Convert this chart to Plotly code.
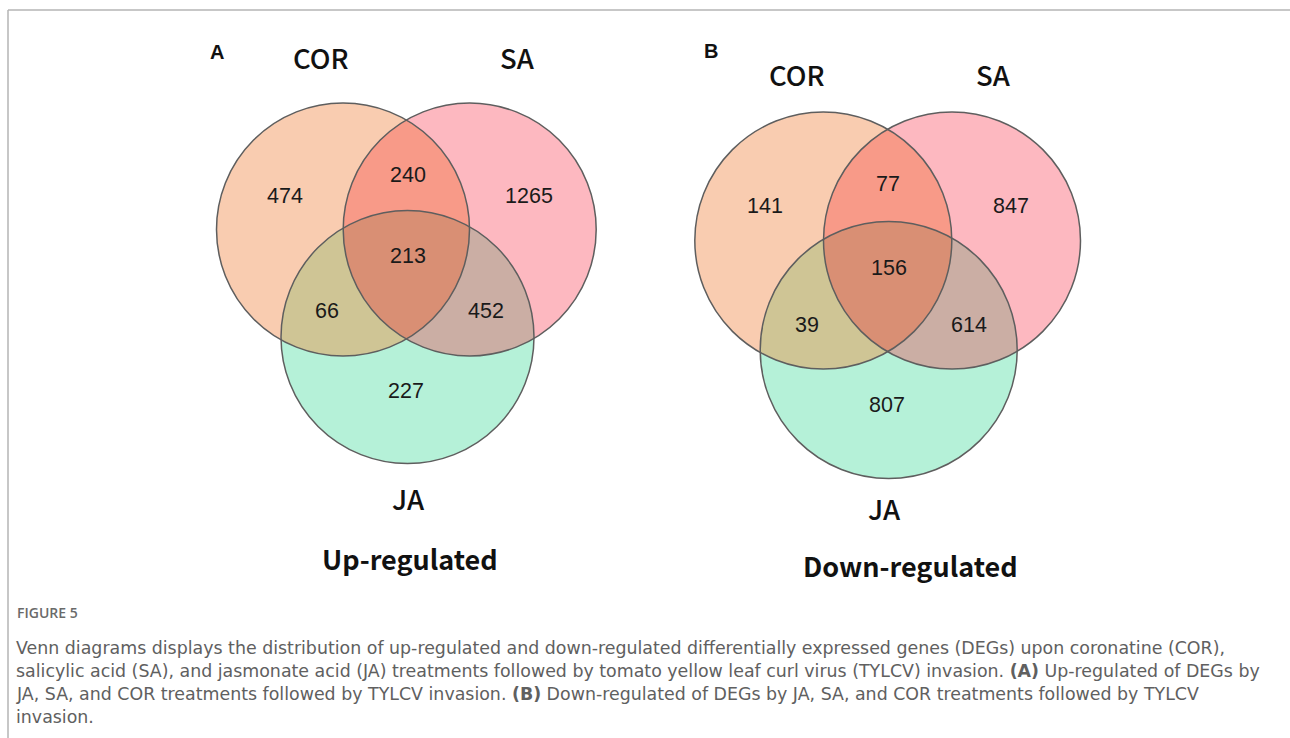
import numpy as np
import plotly.graph_objects as go

# ---------------- data ----------------
sets = ["COR", "SA", "JA"]
panel_letters = ["A", "B"]
panel_titles = ["Up-regulated", "Down-regulated"]
# region order: COR only, COR&SA, SA only, all three, COR&JA, SA&JA, JA only
region_keys = ["100", "110", "010", "111", "101", "011", "001"]
up_counts = [474, 240, 1265, 213, 66, 452, 227]
down_counts = [141, 77, 847, 156, 39, 614, 807]
counts = [up_counts, down_counts]

caption_head = "FIGURE 5"
caption_lines = [
    "Venn diagrams displays the distribution of up-regulated and down-regulated differentially expressed genes (DEGs) upon coronatine (COR),",
    "salicylic acid (SA), and jasmonate acid (JA) treatments followed by tomato yellow leaf curl virus (TYLCV) invasion. <b>(A)</b> Up-regulated of DEGs by",
    "JA, SA, and COR treatments followed by TYLCV invasion. <b>(B)</b> Down-regulated of DEGs by JA, SA, and COR treatments followed by TYLCV",
    "invasion.",
]

# ---------------- layout / style ----------------
W, H = 1290, 738
single_colors = {"100": "#F9CCB0", "010": "#FDB8C0", "001": "#B5F1D8"}
pair_colors = {"110": "#F89A88", "101": "#CFC595", "011": "#CBAEA4"}
triple_color = "#D98F74"
outline = "#5E5E5E"

panels = [
    dict(centers=[(343.0, 229.5), (469.7, 229.5), (407.5, 337.0)], r=126.5,
         letter=(217, 52), labels=[(321, 57), (517, 57), (408, 498)], title=(410, 558),
         nums=[(285, 198), (408, 177), (529, 198), (408, 258), (327, 313), (486, 313), (406, 393)]),
    dict(centers=[(823.3, 240.5), (952.0, 240.5), (888.7, 350.0)], r=128.5,
         letter=(711, 51), labels=[(797, 74), (993, 74), (884, 508)], title=(910, 565),
         nums=[(765, 208), (888, 186), (1011, 208), (889, 270), (807, 327), (969, 327), (887, 407)]),
]


def region_polygon(centers, r, members):
    """Convex intersection of the circles listed in members -> polygon."""
    pts = []
    t = np.linspace(0, 2 * np.pi, 1441)
    for i in members:
        cx, cy = centers[i]
        px, py = cx + r * np.cos(t), cy + r * np.sin(t)
        ok = np.ones_like(t, dtype=bool)
        for j in members:
            if j == i:
                continue
            ox, oy = centers[j]
            ok &= (px - ox) ** 2 + (py - oy) ** 2 <= r * r + 1e-6
        pts.append(np.column_stack([px[ok], py[ok]]))
    pts = np.vstack(pts)
    m = pts.mean(axis=0)
    order = np.argsort(np.arctan2(pts[:, 1] - m[1], pts[:, 0] - m[0]))
    pts = pts[order]
    return pts[:, 0], pts[:, 1]


fig = go.Figure()
shapes = []
annotations = []

label_font = dict(family="Noto Sans CJK SC", size=27.5, color="#111111", weight=500)
for p_idx, p in enumerate(panels):
    c, r = p["centers"], p["r"]
    for k, key in enumerate(["100", "010", "001"]):
        xs, ys = region_polygon(c, r, [k])
        fig.add_trace(go.Scatter(x=xs, y=ys, fill="toself", fillcolor=single_colors[key],
                                 mode="lines", line=dict(width=0), hoverinfo="skip", showlegend=False))
    for key, mem in [("110", [0, 1]), ("101", [0, 2]), ("011", [1, 2])]:
        xs, ys = region_polygon(c, r, mem)
        fig.add_trace(go.Scatter(x=xs, y=ys, fill="toself", fillcolor=pair_colors[key],
                                 mode="lines", line=dict(width=0), hoverinfo="skip", showlegend=False))
    xs, ys = region_polygon(c, r, [0, 1, 2])
    fig.add_trace(go.Scatter(x=xs, y=ys, fill="toself", fillcolor=triple_color,
                             mode="lines", line=dict(width=0), hoverinfo="skip", showlegend=False))
    for (cx, cy) in c:
        shapes.append(dict(type="circle", xref="x", yref="y", x0=cx - r, x1=cx + r,
                           y0=cy - r, y1=cy + r, line=dict(color=outline, width=1.5),
                           fillcolor="rgba(0,0,0,0)", layer="above"))
    fig.add_trace(go.Scatter(x=[q[0] for q in p["nums"]], y=[q[1] for q in p["nums"]],
                             mode="text", text=[str(v) for v in counts[p_idx]],
                             textfont=dict(family="Liberation Sans, Arial", size=21.5, color="#1a1a1a"),
                             hoverinfo="skip", showlegend=False))
    for s, (lx, ly) in zip(sets, p["labels"]):
        annotations.append(dict(x=lx, y=ly, xref="x", yref="y", text=s, showarrow=False,
                                font=label_font, xanchor="center", yanchor="middle"))
    annotations.append(dict(x=p["letter"][0], y=p["letter"][1], xref="x", yref="y",
                            text="<b>%s</b>" % panel_letters[p_idx], showarrow=False,
                            font=dict(family="Liberation Sans, Arial", size=20, color="#111111"),
                            xanchor="center", yanchor="middle"))
    annotations.append(dict(x=p["title"][0], y=p["title"][1], xref="x", yref="y",
                            text=panel_titles[p_idx], showarrow=False,
                            font=dict(family="Noto Sans CJK SC", size=27, color="#111111", weight=600),
                            xanchor="center", yanchor="middle"))

# caption
annotations.append(dict(x=16, y=612, xref="x", yref="y", text=caption_head, showarrow=False,
                        font=dict(family="Open Sans", size=14, color="#6a6a6a", weight=600),
                        xanchor="left", yanchor="middle", borderpad=0))
for i, line in enumerate(caption_lines):
    annotations.append(dict(x=15, y=648 + 23 * i, xref="x", yref="y", text=line, showarrow=False,
                            font=dict(family="DejaVu Sans", size=17.4, color="#606060"),
                            xanchor="left", yanchor="middle", borderpad=0))

# frame lines
shapes.append(dict(type="line", xref="x", yref="y", x0=8, x1=W, y0=10, y1=10,
                   line=dict(color="#B4B4B4", width=1.5)))
shapes.append(dict(type="line", xref="x", yref="y", x0=8, x1=8, y0=10, y1=H,
                   line=dict(color="#B4B4B4", width=1.5)))

fig.update_layout(
    width=W, height=H, margin=dict(l=0, r=0, t=0, b=0),
    paper_bgcolor="white", plot_bgcolor="white",
    xaxis=dict(range=[0, W], visible=False, fixedrange=True),
    yaxis=dict(range=[H, 0], visible=False, fixedrange=True),
    shapes=shapes, annotations=annotations, showlegend=False,
)
fig.write_html("out.html", config={"displayModeBar": False},
               post_script="document.body.style.margin='0';document.body.style.overflow='hidden';")
